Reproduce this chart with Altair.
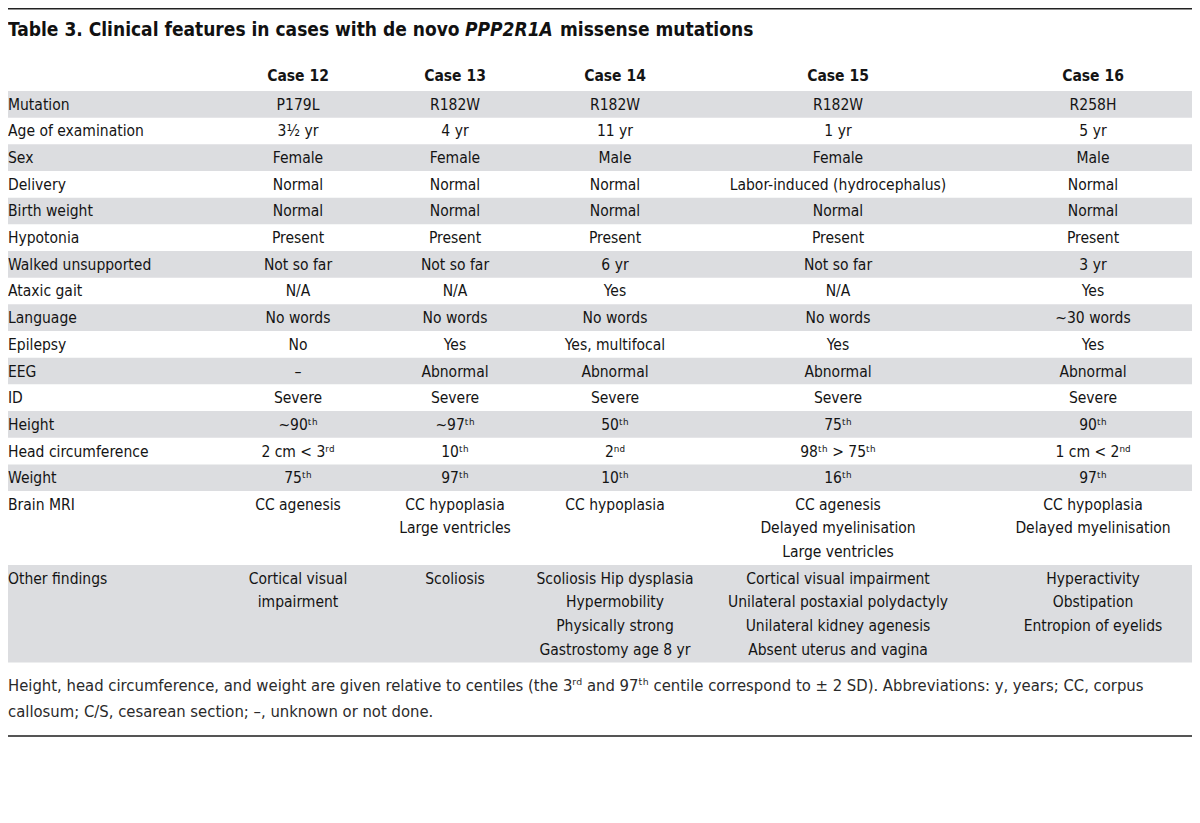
import altair as alt
import pandas as pd

# ---------------- data ----------------
title_parts = ["Table 3. Clinical features in cases with de novo ", "PPP2R1A", " missense mutations"]
headers = ["Case 12", "Case 13", "Case 14", "Case 15", "Case 16"]
row_labels = ["Mutation", "Age of examination", "Sex", "Delivery", "Birth weight", "Hypotonia",
              "Walked unsupported", "Ataxic gait", "Language", "Epilepsy", "EEG", "ID", "Height",
              "Head circumference", "Weight", "Brain MRI", "Other findings"]
case12 = ["P179L", "3½ yr", "Female", "Normal", "Normal", "Present", "Not so far", "N/A", "No words",
          "No", "–", "Severe", "~90ᵗʰ", "2 cm < 3ʳᵈ", "75ᵗʰ", "CC agenesis",
          "Cortical visual\nimpairment"]
case13 = ["R182W", "4 yr", "Female", "Normal", "Normal", "Present", "Not so far", "N/A", "No words",
          "Yes", "Abnormal", "Severe", "~97ᵗʰ", "10ᵗʰ", "97ᵗʰ", "CC hypoplasia\nLarge ventricles",
          "Scoliosis"]
case14 = ["R182W", "11 yr", "Male", "Normal", "Normal", "Present", "6 yr", "Yes", "No words",
          "Yes, multifocal", "Abnormal", "Severe", "50ᵗʰ", "2ⁿᵈ", "10ᵗʰ", "CC hypoplasia",
          "Scoliosis Hip dysplasia\nHypermobility\nPhysically strong\nGastrostomy age 8 yr"]
case15 = ["R182W", "1 yr", "Female", "Labor-induced (hydrocephalus)", "Normal", "Present", "Not so far",
          "N/A", "No words", "Yes", "Abnormal", "Severe", "75ᵗʰ", "98ᵗʰ > 75ᵗʰ", "16ᵗʰ",
          "CC agenesis\nDelayed myelinisation\nLarge ventricles",
          "Cortical visual impairment\nUnilateral postaxial polydactyly\nUnilateral kidney agenesis\nAbsent uterus and vagina"]
case16 = ["R258H", "5 yr", "Male", "Normal", "Normal", "Present", "3 yr", "Yes", "~30 words",
          "Yes", "Abnormal", "Severe", "90ᵗʰ", "1 cm < 2ⁿᵈ", "97ᵗʰ",
          "CC hypoplasia\nDelayed myelinisation",
          "Hyperactivity\nObstipation\nEntropion of eyelids"]
footnote_lines = [
    "Height, head circumference, and weight are given relative to centiles (the 3ʳᵈ and 97ᵗʰ centile correspond to ± 2 SD). Abbreviations: y, years; CC, corpus",
    "callosum; C/S, cesarean section; –, unknown or not done.",
]

# ---------------- layout (positions / styles) ----------------
W, H = 1184, 800
FONT = "Liberation Sans Narrow, DejaVu Sans Condensed, sans-serif"
BODY = 15.5
HEAD = 15.5
TITLE = 19
FOOT = 16.5
col_x = [290, 447, 607, 830, 1085]
title_x = [0, 457, 552]
TITLE_Y = 22
HEADER_Y = 68
FIRST_TOP = 83
ROW_PITCH = 26.67
LINE_STEP = 23.6
TEXT_OFF = 13.8
FOOT_Y = [678, 704]
TOP_RULE = 0.5
BOTTOM_RULE = 728
BAND = "#dcdde0"
INK = "#141414"

cases = [case12, case13, case14, case15, case16]

# build tables
bands, labels, cells = [], [], []
top = FIRST_TOP
for i, lab in enumerate(row_labels):
    nlines = max(len(c[i].split("\n")) for c in cases)
    h = ROW_PITCH + (nlines - 1) * LINE_STEP
    if i % 2 == 0:
        bands.append({"y": top, "y2": top + h, "x": 0, "x2": W})
    labels.append({"x": 0, "y": top + TEXT_OFF, "t": lab})
    for j, c in enumerate(cases):
        for k, line in enumerate(c[i].split("\n")):
            cells.append({"x": col_x[j], "y": top + TEXT_OFF + k * LINE_STEP, "t": line})
    top += h

hdr = pd.DataFrame({"x": col_x, "y": [HEADER_Y] * 5, "t": headers})
ttl = pd.DataFrame({"x": title_x, "y": [TITLE_Y] * 3, "t": title_parts,
                    "s": ["normal", "italic", "normal"]})
foot = pd.DataFrame({"x": [0, 0], "y": FOOT_Y, "t": footnote_lines})
rules = pd.DataFrame({"y": [TOP_RULE, BOTTOM_RULE], "c": ["top", "bottom"]})

xs = alt.Scale(domain=[0, W], range=[0, W])
ys = alt.Scale(domain=[0, H], range=[0, H])
X = lambda f="x": alt.X(f"{f}:Q", scale=xs, axis=None)
Y = lambda f="y": alt.Y(f"{f}:Q", scale=ys, axis=None)

band_layer = alt.Chart(pd.DataFrame(bands)).mark_rect(color=BAND).encode(
    x=X(), x2="x2:Q", y=Y(), y2="y2:Q")

rule_layer = alt.Chart(rules).mark_rule(strokeWidth=2).encode(
    y=Y(), x=alt.value(0), x2=alt.value(W),
    color=alt.Color("c:N", scale=alt.Scale(domain=["top", "bottom"], range=["#222222", "#555555"]),
                    legend=None))

label_layer = alt.Chart(pd.DataFrame(labels)).mark_text(
    align="left", baseline="middle", font=FONT, fontSize=BODY, color=INK).encode(
    x=X(), y=Y(), text="t:N")

cell_layer = alt.Chart(pd.DataFrame(cells)).mark_text(
    align="center", baseline="middle", font=FONT, fontSize=BODY, color=INK).encode(
    x=X(), y=Y(), text="t:N")

hdr_layer = alt.Chart(hdr).mark_text(
    align="center", baseline="middle", font=FONT, fontSize=HEAD, fontWeight="bold", color=INK).encode(
    x=X(), y=Y(), text="t:N")

title_norm = alt.Chart(ttl[ttl.s == "normal"]).mark_text(
    align="left", baseline="middle", font=FONT, fontSize=TITLE, fontWeight="bold", color="#111111").encode(
    x=X(), y=Y(), text="t:N")
title_ital = alt.Chart(ttl[ttl.s == "italic"]).mark_text(
    align="left", baseline="middle", font=FONT, fontSize=TITLE, fontWeight="bold", fontStyle="italic",
    color="#111111").encode(x=X(), y=Y(), text="t:N")

foot_layer = alt.Chart(foot).mark_text(
    align="left", baseline="middle", font=FONT, fontSize=FOOT, color="#2a2a2a").encode(
    x=X(), y=Y(), text="t:N")

chart = alt.layer(band_layer, rule_layer, label_layer, cell_layer, hdr_layer,
                  title_norm, title_ital, foot_layer).properties(
    width=W, height=H, padding=0, autosize=alt.AutoSizeParams(type="none")
).configure_view(stroke=None)

chart.save("out.html", embed_options={"renderer": "svg", "actions": False})
